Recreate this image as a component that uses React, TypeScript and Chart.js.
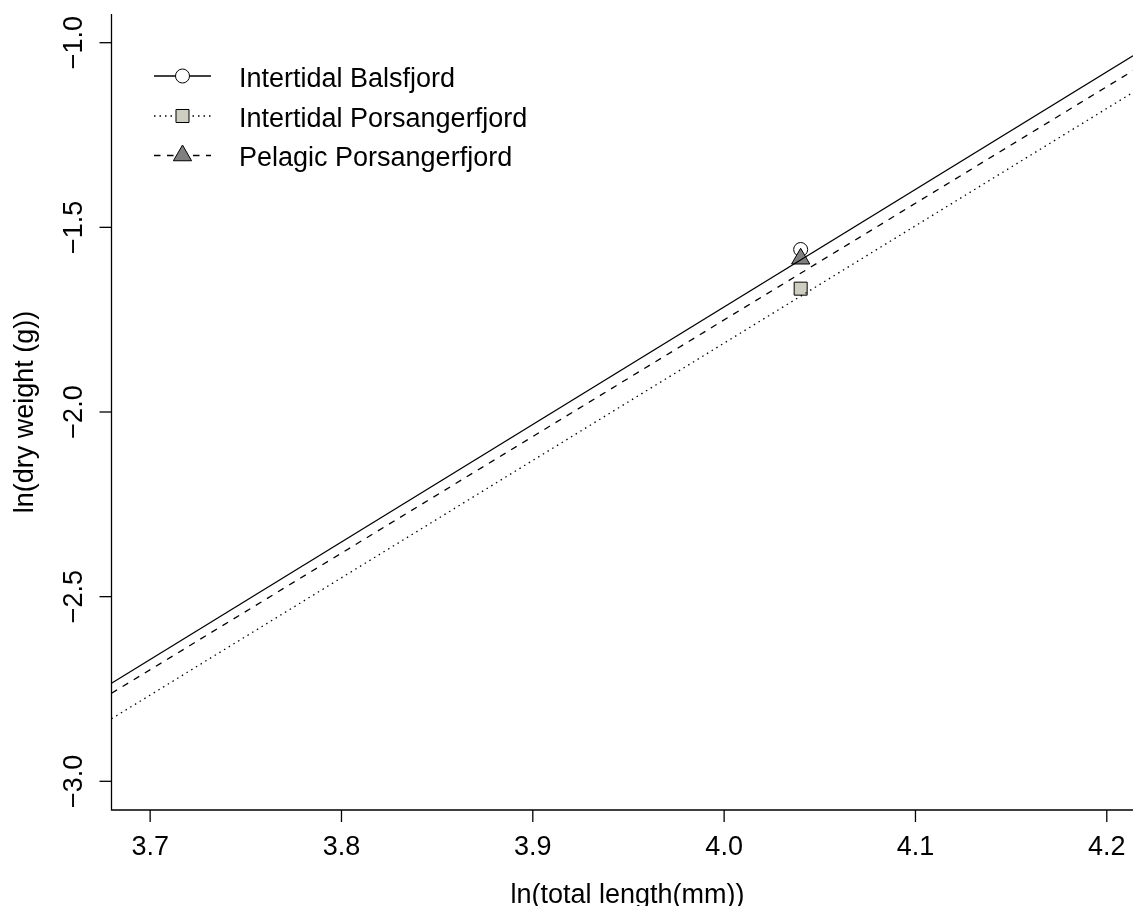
import React, { useEffect, useRef } from "react";
import { Chart, registerables } from "chart.js";

Chart.register(...registerables);

// ---- data ----
const xLimits = [3.6798, 4.2137];
const yLimits = [-3.0777, -0.9223];
const xTicks = [3.7, 3.8, 3.9, 4.0, 4.1, 4.2];
const yTicks = [-3.0, -2.5, -2.0, -1.5, -1.0];

// regression lines: y values at the two x limits
const lineX = [3.6798, 4.2137];
const balsfjordLineY = [-2.7346, -1.0352];
const porsIntertidalLineY = [-2.8308, -1.1346];
const porsPelagicLineY = [-2.7617, -1.0758];

// mean points
const pointX = [4.04];
const balsfjordPointY = [-1.56];
const porsIntertidalPointY = [-1.666];
const porsPelagicPointY = [-1.585];

const legendLabels = [
  "Intertidal Balsfjord",
  "Intertidal Porsangerfjord",
  "Pelagic Porsangerfjord",
];

const xTitle = "ln(total length(mm))";
const yTitle = "ln(dry weight (g))";

// ---- styles ----
const FONT = '27px "Liberation Sans", Arial, Helvetica, sans-serif';
const LW = 1.3;
const dashSolid: number[] = [];
const dashDotted = [1.5, 4];
const dashDashed = [6.5, 6.5];
const fillCircle = "#ffffff";
const fillSquare = "#cdcdc1";
const fillTriangle = "#7f7f7f";
const rCircle = 7;
const rSquare = 9.2;
const rTriangle = 10.5;

const legendStyles = [
  { dash: dashSolid, shape: "circle", fill: fillCircle, r: rCircle },
  { dash: dashDotted, shape: "rect", fill: fillSquare, r: rSquare },
  { dash: dashDashed, shape: "triangle", fill: fillTriangle, r: rTriangle },
];

const fmt = (v: number) => {
  const s = Math.abs(v).toFixed(1);
  return v < 0 ? "\u2212" + s : s;
};

function drawMarker(ctx: CanvasRenderingContext2D, shape: string, x: number, y: number, r: number, fill: string) {
  ctx.save();
  ctx.setLineDash([]);
  ctx.fillStyle = fill;
  ctx.strokeStyle = "#000";
  ctx.lineWidth = 1;
  ctx.beginPath();
  if (shape === "circle") {
    ctx.arc(x, y, r, 0, Math.PI * 2);
  } else if (shape === "rect") {
    const s = Math.SQRT1_2 * r;
    ctx.rect(x - s, y - s, 2 * s, 2 * s);
  } else {
    let a = 0;
    ctx.moveTo(x + Math.sin(a) * r, y - Math.cos(a) * r);
    a += (2 * Math.PI) / 3;
    ctx.lineTo(x + Math.sin(a) * r, y - Math.cos(a) * r);
    a += (2 * Math.PI) / 3;
    ctx.lineTo(x + Math.sin(a) * r, y - Math.cos(a) * r);
    ctx.closePath();
  }
  ctx.fill();
  ctx.stroke();
  ctx.restore();
}

const rPlotPlugin = {
  id: "rplot",
  afterDraw(chart: any) {
    const ctx: CanvasRenderingContext2D = chart.ctx;
    const a = chart.chartArea;
    const xs = chart.scales.x;
    const ys = chart.scales.y;
    ctx.save();
    ctx.strokeStyle = "#000";
    ctx.fillStyle = "#000";
    ctx.lineWidth = LW;
    ctx.setLineDash([]);
    // L-shaped box
    ctx.beginPath();
    ctx.moveTo(a.left, a.top);
    ctx.lineTo(a.left, a.bottom);
    ctx.lineTo(a.right, a.bottom);
    ctx.stroke();

    ctx.font = FONT;
    // x ticks
    ctx.textAlign = "center";
    ctx.textBaseline = "alphabetic";
    for (const t of xTicks) {
      const px = xs.getPixelForValue(t);
      ctx.beginPath();
      ctx.moveTo(px, a.bottom);
      ctx.lineTo(px, a.bottom + 12);
      ctx.stroke();
      ctx.fillText(t.toFixed(1), px, 855);
    }
    // y ticks
    for (const t of yTicks) {
      const py = ys.getPixelForValue(t);
      ctx.beginPath();
      ctx.moveTo(a.left, py);
      ctx.lineTo(a.left - 12, py);
      ctx.stroke();
      ctx.save();
      ctx.translate(82, py);
      ctx.rotate(-Math.PI / 2);
      ctx.fillText(fmt(t), 0, 0);
      ctx.restore();
    }
    // titles
    ctx.fillText(xTitle, 627.5, 903);
    ctx.save();
    ctx.translate(33, (a.top + a.bottom) / 2);
    ctx.rotate(-Math.PI / 2);
    ctx.fillText(yTitle, 0, 0);
    ctx.restore();

    // legend
    const rows = [76, 116, 155.5];
    ctx.textAlign = "left";
    legendLabels.forEach((lab, i) => {
      const st = legendStyles[i];
      const ry = rows[i];
      ctx.save();
      ctx.lineWidth = LW;
      ctx.setLineDash(st.dash);
      ctx.beginPath();
      ctx.moveTo(154, ry);
      ctx.lineTo(211, ry);
      ctx.stroke();
      ctx.restore();
      drawMarker(ctx, st.shape, 182.5, ry, st.r, st.fill);
      ctx.fillStyle = "#000";
      ctx.fillText(lab, 239, ry + 10.5);
    });
    ctx.restore();
  },
};

const toPts = (xs: number[], ys: number[]) => xs.map((x, i) => ({ x, y: ys[i] }));

export default function App() {
  const ref = useRef<HTMLCanvasElement | null>(null);
  useEffect(() => {
    if (!ref.current) return;
    const lineDs = (ys: number[], dash: number[], order: number) => ({
      type: "scatter" as const,
      data: toPts(lineX, ys),
      showLine: true,
      borderColor: "#000",
      borderWidth: LW,
      borderDash: dash,
      pointRadius: 0,
      pointHoverRadius: 0,
      fill: false,
      order,
    });
    const ptDs = (ys: number[], style: string, r: number, fill: string, order: number) => ({
      type: "scatter" as const,
      data: toPts(pointX, ys),
      showLine: false,
      pointStyle: style,
      pointRadius: r,
      pointHoverRadius: r,
      backgroundColor: fill,
      borderColor: "#000",
      pointBorderWidth: 1,
      order,
    });
    const chart = new Chart(ref.current, {
      type: "scatter",
      data: {
        datasets: [
          lineDs(balsfjordLineY, dashSolid, 1),
          lineDs(porsPelagicLineY, dashDashed, 2),
          lineDs(porsIntertidalLineY, dashDotted, 3),
          ptDs(porsPelagicPointY, "triangle", rTriangle, fillTriangle, 4),
          ptDs(porsIntertidalPointY, "rect", rSquare, fillSquare, 5),
          ptDs(balsfjordPointY, "circle", rCircle, fillCircle, 6),
        ] as any,
      },
      options: {
        animation: false,
        responsive: false,
        devicePixelRatio: 1,
        events: [],
        layout: { autoPadding: false, padding: { left: 111.5, top: 14, right: 0, bottom: 96 } },
        plugins: { legend: { display: false }, tooltip: { enabled: false } },
        scales: {
          x: { type: "linear", min: xLimits[0], max: xLimits[1], display: false },
          y: { type: "linear", min: yLimits[0], max: yLimits[1], display: false },
        },
      },
      plugins: [rPlotPlugin],
    });
    return () => chart.destroy();
  }, []);
  return (
    <div style={{ position: "fixed", left: 0, top: 0, width: 1133, height: 906, background: "#fff" }}>
      <canvas ref={ref} width={1133} height={906} style={{ display: "block" }} />
    </div>
  );
}
